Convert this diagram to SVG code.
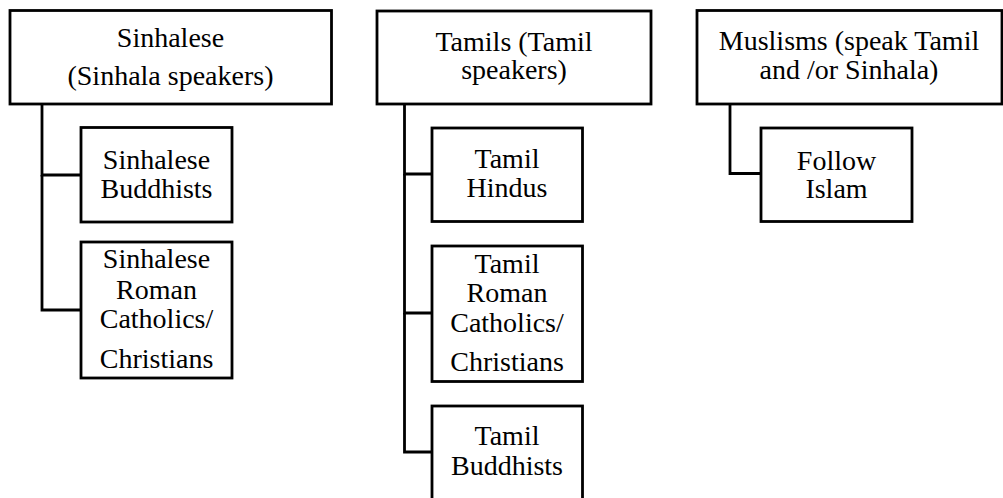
<svg xmlns="http://www.w3.org/2000/svg" width="1003" height="498" viewBox="0 0 1003 498">
<style>
.box{fill:#fff;stroke:#000;stroke-width:2.8}
.ln{fill:none;stroke:#000;stroke-width:2.8}
text{font-family:'Liberation Serif','Times New Roman',serif;font-size:28px;fill:#000;text-anchor:middle}
</style>
<rect width="1003" height="498" fill="#fff"/>
<g id="connectors">
<polyline class="ln" points="42,104 42,175 81,175"/>
<polyline class="ln" points="42,175 42,310 81,310"/>
<polyline class="ln" points="404.5,104 404.5,174 432,174"/>
<polyline class="ln" points="404.5,174 404.5,313 432,313"/>
<polyline class="ln" points="404.5,313 404.5,452 432,452"/>
<polyline class="ln" points="730,104 730,173.5 761,173.5"/>
</g>
<g id="sinhalese">
<rect class="box" x="10" y="10.5" width="321.5" height="93.5"/>
<text x="170.5" y="47">Sinhalese</text>
<text x="170.5" y="85">(Sinhala speakers)</text>
</g>
<g id="sinhalese-buddhists">
<rect class="box" x="81" y="127.5" width="151" height="94.5"/>
<text x="156.5" y="169">Sinhalese</text>
<text x="156.5" y="198">Buddhists</text>
</g>
<g id="sinhalese-christians">
<rect class="box" x="81" y="242" width="151" height="136"/>
<text x="156.5" y="268">Sinhalese</text>
<text x="156.5" y="299">Roman</text>
<text x="156.5" y="328">Catholics/</text>
<text x="156.5" y="368">Christians</text>
</g>
<g id="tamils">
<rect class="box" x="377" y="11" width="274" height="93"/>
<text x="514" y="51">Tamils (Tamil</text>
<text x="514" y="79">speakers)</text>
</g>
<g id="tamil-hindus">
<rect class="box" x="432" y="128" width="150.5" height="93.5"/>
<text x="507" y="168">Tamil</text>
<text x="507" y="197">Hindus</text>
</g>
<g id="tamil-christians">
<rect class="box" x="432" y="246" width="150.5" height="135.5"/>
<text x="507" y="273">Tamil</text>
<text x="507" y="302">Roman</text>
<text x="507" y="332">Catholics/</text>
<text x="507" y="371">Christians</text>
</g>
<g id="tamil-buddhists">
<rect class="box" x="432" y="406" width="150.5" height="100"/>
<text x="507" y="445">Tamil</text>
<text x="507" y="475">Buddhists</text>
</g>
<g id="muslims">
<rect class="box" x="697" y="10.5" width="305" height="93.5"/>
<text x="849" y="50">Muslisms (speak Tamil</text>
<text x="849" y="79">and /or Sinhala)</text>
</g>
<g id="follow-islam">
<rect class="box" x="761" y="128" width="151" height="93.5"/>
<text x="836.5" y="170">Follow</text>
<text x="836.5" y="198">Islam</text>
</g>
</svg>
